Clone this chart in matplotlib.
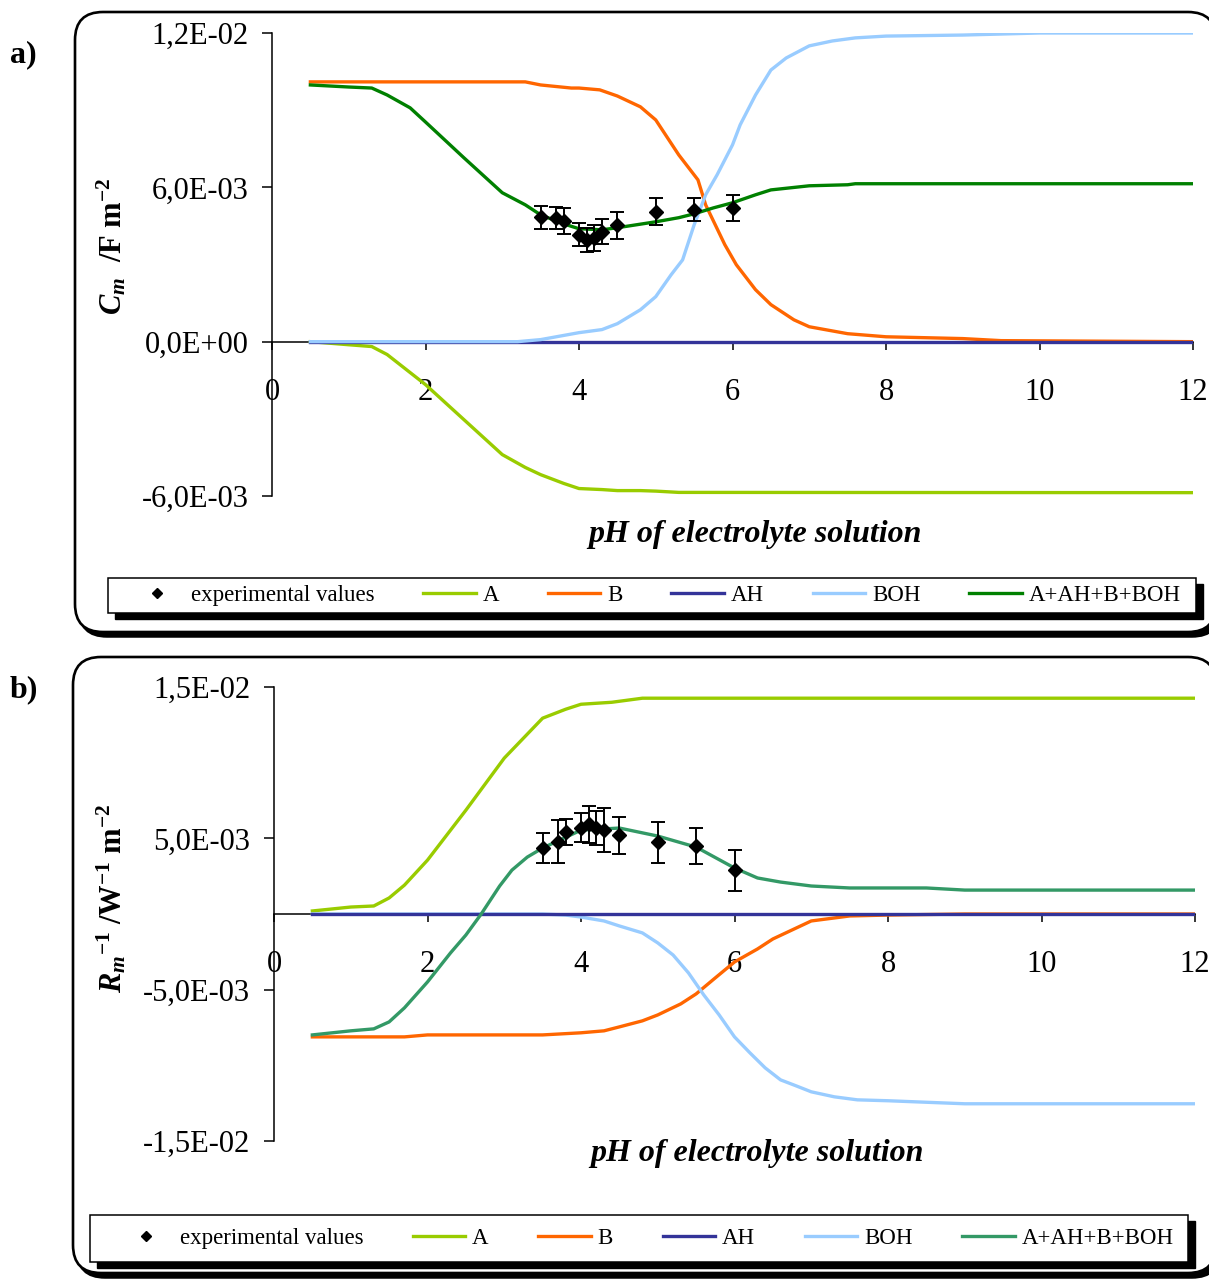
import matplotlib
matplotlib.use("Agg")
import matplotlib.pyplot as plt
from matplotlib.patches import FancyBboxPatch, Rectangle
from matplotlib.ticker import FixedLocator, FuncFormatter

plt.rcParams['font.family'] = ['Liberation Serif', 'DejaVu Serif']
plt.rcParams['mathtext.fontset'] = 'custom'
plt.rcParams['mathtext.rm'] = 'Liberation Serif'
plt.rcParams['mathtext.it'] = 'Liberation Serif:italic'
plt.rcParams['mathtext.bf'] = 'Liberation Serif:bold'
plt.rcParams['mathtext.bfit'] = 'Liberation Serif:italic:bold'

# ---------------- panel a : membrane capacitance Cm ----------------
ph_exp = [3.5, 3.7, 3.8, 4.0, 4.1, 4.2, 4.3, 4.5, 5.0, 5.5, 6.0]
cm_exp = [0.00483, 0.00480, 0.00470, 0.00416, 0.00396, 0.00403, 0.00428,
          0.00452, 0.00505, 0.00513, 0.00520]
cm_err = [0.00046, 0.00042, 0.00050, 0.00045, 0.00047, 0.00050, 0.00050,
          0.00052, 0.00052, 0.00045, 0.00050]

ph_a_A = [0.5, 1.0, 1.3, 1.5, 2.0, 2.5, 3.0, 3.3, 3.5, 3.8, 4.0, 4.3, 4.5,
          4.8, 5.0, 5.3, 12.0]
cm_A = [0.0, -0.00012, -0.00019, -0.0005, -0.00167, -0.00303, -0.00439,
        -0.00489, -0.00517, -0.00551, -0.00571, -0.00575, -0.00579,
        -0.00579, -0.00581, -0.00586, -0.00587]

ph_a_B = [0.5, 3.3, 3.5, 3.9, 4.0, 4.27, 4.5, 4.8, 5.0, 5.3, 5.55, 5.65,
          5.9, 6.05, 6.3, 6.5, 6.8, 7.0, 7.5, 8.0, 9.0, 9.5, 12.0]
cm_B = [0.0101, 0.0101, 0.00998, 0.00986, 0.00986, 0.00979, 0.00955,
        0.00913, 0.00862, 0.00726, 0.00629, 0.00532, 0.00377, 0.00299,
        0.00202, 0.00144, 0.00085, 0.00058, 0.00031, 0.00019, 0.00012,
        0.00004, 0.0]

ph_a_AH = [0.5, 12.0]
cm_AH = [0.0, 0.0]

ph_a_BOH = [0.5, 3.2, 3.5, 4.0, 4.3, 4.5, 4.8, 5.0, 5.2, 5.35, 5.5, 5.65,
            5.8, 6.0, 6.1, 6.3, 6.5, 6.7, 7.0, 7.3, 7.6, 8.0, 9.0, 10.0, 12.0]
cm_BOH = [0.0, 0.0, 0.00008, 0.00035, 0.00047, 0.0007, 0.00124, 0.00175,
          0.0026, 0.00318, 0.00454, 0.00571, 0.00649, 0.00765, 0.00843,
          0.00959, 0.01056, 0.01103, 0.0115, 0.01169, 0.01181, 0.01188,
          0.01192, 0.012, 0.012]

ph_a_sum = [0.5, 1.0, 1.3, 1.5, 1.8, 2.0, 2.5, 3.0, 3.3, 3.5, 3.8, 4.0,
            4.3, 4.5, 5.0, 5.3, 5.5, 5.75, 6.0, 6.3, 6.5, 7.0, 7.5, 7.6, 12.0]
cm_sum = [0.00998, 0.0099, 0.00986, 0.00959, 0.00909, 0.00854, 0.00715,
          0.00579, 0.00532, 0.00493, 0.00458, 0.00439, 0.00435, 0.00443,
          0.00466, 0.00482, 0.00497, 0.00520, 0.00540, 0.00571, 0.00590,
          0.00606, 0.00610, 0.00614, 0.00614]

# ---------------- panel b : membrane conductance 1/Rm ----------------
rm_exp = [0.00438, 0.00477, 0.00543, 0.00570, 0.00592, 0.00566, 0.00555,
          0.00520, 0.00475, 0.00449, 0.00290]
rm_err = [0.00099, 0.00143, 0.00086, 0.00096, 0.00123, 0.00112, 0.00143,
          0.00123, 0.00135, 0.00116, 0.00135]

ph_b_A = [0.5, 1.0, 1.3, 1.5, 1.7, 2.0, 2.5, 3.0, 3.5, 3.8, 4.0, 4.4, 4.8, 12.0]
rm_A = [0.0002, 0.00046, 0.00053, 0.00106, 0.00191, 0.00356, 0.00686,
        0.0103, 0.01294, 0.01353, 0.01386, 0.01399, 0.01426, 0.01426]

ph_b_B = [0.5, 1.7, 2.0, 3.5, 4.0, 4.3, 4.5, 4.8, 5.0, 5.3, 5.5, 5.75, 6.0,
          6.3, 6.5, 7.0, 7.5, 8.0, 9.0, 12.0]
rm_B = [-0.00812, -0.00812, -0.00799, -0.00799, -0.00785, -0.00772,
        -0.00746, -0.00706, -0.00667, -0.00594, -0.00528, -0.00422,
        -0.00317, -0.00231, -0.00165, -0.00046, -0.00013, -0.00007, 0.0, 0.0]

ph_b_AH = [0.5, 12.0]
rm_AH = [0.0, 0.0]

ph_b_BOH = [0.5, 3.5, 3.8, 4.0, 4.3, 4.5, 4.8, 5.0, 5.2, 5.4, 5.6, 5.8, 6.0,
            6.2, 6.4, 6.6, 6.8, 7.0, 7.3, 7.6, 8.0, 9.0, 12.0]
rm_BOH = [0.0, 0.0, -0.00007, -0.0002, -0.00046, -0.00079, -0.00125,
          -0.00191, -0.00271, -0.00389, -0.00535, -0.00667, -0.00812,
          -0.00917, -0.01017, -0.01096, -0.01135, -0.01175, -0.01208,
          -0.01228, -0.01234, -0.01254, -0.01254]

ph_b_sum = [0.5, 1.0, 1.3, 1.5, 1.7, 2.0, 2.3, 2.5, 2.7, 2.94, 3.1, 3.3,
            3.5, 3.75, 4.0, 4.25, 4.5, 5.0, 5.5, 6.0, 6.3, 6.6, 7.0, 7.5,
            8.5, 9.0, 12.0]
rm_sum = [-0.00799, -0.00772, -0.00759, -0.00713, -0.0062, -0.00449,
          -0.00257, -0.00139, 0.0, 0.00185, 0.0029, 0.00376, 0.00436,
          0.00495, 0.00554, 0.00561, 0.00568, 0.00515, 0.00442, 0.00304,
          0.00238, 0.00211, 0.00185, 0.00172, 0.00172, 0.00158, 0.00158]

xticks = [0, 2, 4, 6, 8, 10, 12]
yticks_a = [-0.006, 0.0, 0.006, 0.012]
yticks_b = [-0.015, -0.005, 0.005, 0.015]
labels = ['experimental values', 'A', 'B', 'AH', 'BOH', 'A+AH+B+BOH']

C_A, C_B, C_AH, C_BOH = '#99CC00', '#FF6600', '#333399', '#99CCFF'
C_SUM_A, C_SUM_B = '#008000', '#339966'

W, H = 1209, 1279
fig = plt.figure(figsize=(W / 100, H / 100), dpi=100)


def fx(px):
    return px / W


def fy(py):
    return 1 - py / H


def comma_sci(v, pos):
    return f"{v:.1E}".replace('.', ',')


def panel_box(x0, y0, x1, y1):
    # rounded frame with dark drop shadow, given in pixel coords
    ins = fig.dpi_scale_trans
    kw = dict(boxstyle="round,pad=0,rounding_size=0.28", transform=ins)
    sh = FancyBboxPatch((x0 / 100 + 0.04, (H - y1) / 100 - 0.045),
                        (x1 - x0) / 100, (y1 - y0) / 100,
                        facecolor='black', edgecolor='black', lw=1.8,
                        zorder=-3, **kw)
    bx = FancyBboxPatch((x0 / 100, (H - y1) / 100), (x1 - x0) / 100,
                        (y1 - y0) / 100, facecolor='white', edgecolor='black',
                        lw=1.9, zorder=-2, **kw)
    fig.patches.extend([sh, bx])


def legend_box(handles, x0, y0, x1, y1, cx0, cx1):
    sh = Rectangle((fx(x0 + 7), fy(y1 + 6)), fx(x1) - fx(x0), fy(y0) - fy(y1),
                   transform=fig.transFigure, facecolor='black',
                   edgecolor='black', zorder=3)
    fr = Rectangle((fx(x0), fy(y1)), fx(x1) - fx(x0), fy(y0) - fy(y1),
                   transform=fig.transFigure, facecolor='white',
                   edgecolor='black', lw=1.1, zorder=4)
    fig.patches.extend([sh, fr])
    yc = (y0 + y1) / 2
    fig.legend(handles, labels, loc='center', ncol=6, mode='expand',
               bbox_to_anchor=(fx(cx0), fy(yc + 10), fx(cx1) - fx(cx0),
                               fy(yc - 10) - fy(yc + 10)),
               bbox_transform=fig.transFigure, frameon=False, fontsize=16.5,
               handlelength=2.3, handletextpad=0.3, borderpad=0,
               borderaxespad=0, markerscale=0.8)


def draw(ax, curves, ph_e, v_e, e_e, ylim, yticks):
    # curves: (pH, values, colour, zorder); legend order is the list order
    handles = []
    for ph, v, c, z in curves:
        ln, = ax.plot(ph, v, color=c, lw=2.4, solid_joinstyle='round',
                      zorder=z)
        handles.append(ln)
    ax.errorbar(ph_e, v_e, yerr=e_e, fmt='none', ecolor='black',
                elinewidth=1.4, capsize=5, capthick=1.4, zorder=8)
    pts, = ax.plot(ph_e, v_e, 'D', color='black', ms=7, ls='none', zorder=9)
    ax.set_xlim(0, 12)
    ax.set_ylim(*ylim)
    ax.set_facecolor('none')
    ax.spines['top'].set_visible(False)
    ax.spines['right'].set_visible(False)
    ax.spines['bottom'].set_position(('data', 0))
    for s in ('left', 'bottom'):
        ax.spines[s].set_linewidth(1.1)
        ax.spines[s].set_zorder(1)
    ax.xaxis.set_major_locator(FixedLocator(xticks))
    ax.yaxis.set_major_locator(FixedLocator(yticks))
    ax.yaxis.set_major_formatter(FuncFormatter(comma_sci))
    ax.tick_params(axis='x', direction='out', length=6, width=1.1,
                   labelsize=22, pad=20)
    ax.tick_params(axis='y', direction='out', length=7, width=1.1,
                   labelsize=22, pad=10)
    return [pts] + handles


# ---- panel a ----
panel_box(75, 12, 1216, 632)
ax1 = fig.add_axes([fx(272), fy(496), fx(1193) - fx(272), fy(33) - fy(496)])
h1 = draw(ax1, [(ph_a_A, cm_A, C_A, 2), (ph_a_B, cm_B, C_B, 2.1),
                (ph_a_AH, cm_AH, C_AH, 2.2), (ph_a_BOH, cm_BOH, C_BOH, 2.3),
                (ph_a_sum, cm_sum, C_SUM_A, 2.4)],
          ph_exp, cm_exp, cm_err, (-0.006, 0.012), yticks_a)
ax1.text(-0.174, 0.54, r"$\mathbfit{C}_{\mathbfit{m}}$  /F m$^{\mathbf{-2}}$",
         transform=ax1.transAxes, rotation=90, ha='center', va='center',
         fontsize=22, fontweight='bold')
ax1.text(0.524, -0.084, 'pH of electrolyte solution', transform=ax1.transAxes,
         ha='center', va='center', fontsize=23, fontweight='bold',
         fontstyle='italic')
legend_box(h1, 108, 578, 1196, 613, 131, 1181)
fig.text(fx(10), fy(55), 'a)', ha='left', va='center', fontsize=23,
         fontweight='bold')

# ---- panel b ----
panel_box(73, 657, 1216, 1273)
ax2 = fig.add_axes([fx(274), fy(1141), fx(1195) - fx(274), fy(687) - fy(1141)])
h2 = draw(ax2, [(ph_b_A, rm_A, C_A, 2), (ph_b_B, rm_B, C_B, 2.1),
                (ph_b_AH, rm_AH, C_AH, 2.35), (ph_b_BOH, rm_BOH, C_BOH, 2.3),
                (ph_b_sum, rm_sum, C_SUM_B, 2.4)],
          ph_exp, rm_exp, rm_err, (-0.015, 0.015), yticks_b)
ax2.text(-0.176, 0.535,
         r"$\mathbfit{R}_{\mathbfit{m}}{}^{\mathbf{-1}}$ /W$^{\mathbf{-1}}$ m$^{\mathbf{-2}}$",
         transform=ax2.transAxes, rotation=90, ha='center', va='center',
         fontsize=22, fontweight='bold')
ax2.text(0.524, -0.028, 'pH of electrolyte solution', transform=ax2.transAxes,
         ha='center', va='center', fontsize=23, fontweight='bold',
         fontstyle='italic')
legend_box(h2, 90, 1215, 1188, 1262, 120, 1174)
fig.text(fx(10), fy(690), 'b)', ha='left', va='center', fontsize=23,
         fontweight='bold')

fig.savefig('out.png', dpi=100)
